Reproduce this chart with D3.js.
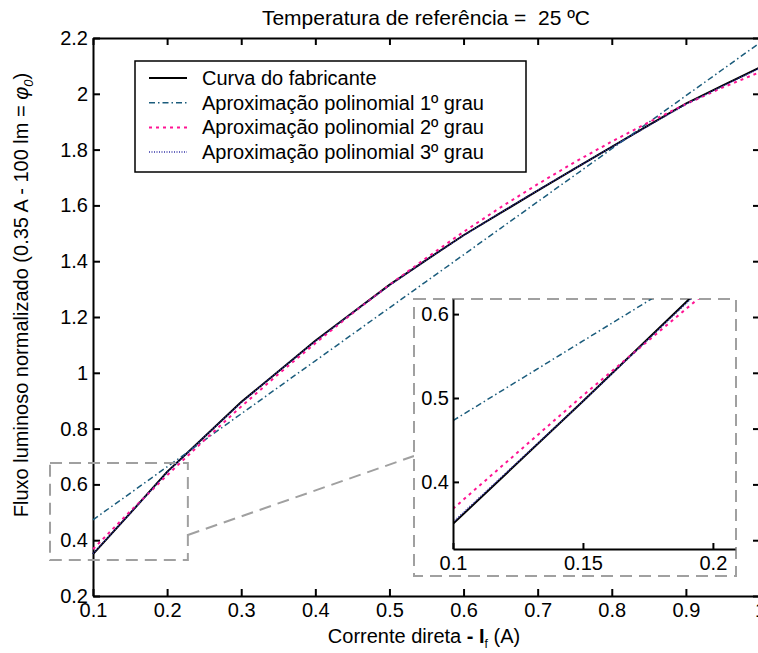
<!DOCTYPE html>
<html>
  <head>
    <meta charset="utf-8">
    <title>Fluxo luminoso normalizado</title>
    <style>
      body { margin: 0; background: #fff; }
      svg { display: block; font-family: "Liberation Sans", Arial, Helvetica, sans-serif; }
      .axis text { font-size: 20px; fill: #000; }
      .axis path, .axis line { stroke: #000; stroke-width: 2px; }
    </style>
    <script src="https://cdn.jsdelivr.net/npm/d3@7"></script>
  </head>
  <body>
    <div id="chart"></div>
    <script>
      // corrente direta (A)
      var current = [0.1, 0.15, 0.2, 0.25, 0.3, 0.35, 0.4, 0.45, 0.5, 0.55, 0.6, 0.65, 0.7, 0.75, 0.8, 0.85, 0.9, 0.95, 1.0];
      // curva do fabricante
      var fabricante = [0.35, 0.496, 0.645, 0.77, 0.895, 1.005, 1.115, 1.215, 1.315, 1.405, 1.493, 1.573, 1.653, 1.732, 1.81, 1.888, 1.965, 2.03, 2.095];
      // aproximacoes polinomiais
      var grau1 = [0.473, 0.568, 0.663, 0.758, 0.853, 0.948, 1.043, 1.138, 1.233, 1.328, 1.423, 1.518, 1.613, 1.708, 1.803, 1.898, 1.993, 2.088, 2.183];
      var grau2 = [0.368, 0.503, 0.633, 0.758, 0.879, 0.995, 1.106, 1.213, 1.315, 1.412, 1.505, 1.593, 1.676, 1.755, 1.829, 1.898, 1.963, 2.023, 2.078];
      var grau3 = [0.352, 0.496, 0.643, 0.77, 0.893, 1.005, 1.113, 1.215, 1.313, 1.405, 1.492, 1.574, 1.654, 1.732, 1.809, 1.886, 1.962, 2.028, 2.092];

      var xTicks = [0.1, 0.2, 0.3, 0.4, 0.5, 0.6, 0.7, 0.8, 0.9, 1.0];
      var yTicks = [0.2, 0.4, 0.6, 0.8, 1.0, 1.2, 1.4, 1.6, 1.8, 2.0, 2.2];
      var zoomXTicks = [0.1, 0.15, 0.2];
      var zoomYTicks = [0.4, 0.5, 0.6];
      // area marcada no grafico principal (x0, x1, y0, y1)
      var zoomArea = [0.042, 0.228, 0.329, 0.677];

      var series = [
        { name: 'Curva do fabricante', values: fabricante, color: '#000', width: 2, dash: null },
        { name: 'Aproximação polinomial 1º grau', values: grau1, color: '#1b5c7c', width: 1.5, dash: '6,3,1.5,3' },
        { name: 'Aproximação polinomial 2º grau', values: grau2, color: '#ff1493', width: 2, dash: '3,4' },
        { name: 'Aproximação polinomial 3º grau', values: grau3, color: '#3535a8', width: 1.5, dash: '1,1.5' }
      ];

      var fmt = function(d) { return String(+d.toFixed(2)); };

      var svg = d3.select('#chart').append('svg').attr('width', 758).attr('height', 653);

      var x = d3.scaleLinear().domain([0.1, 1.0]).range([93, 760]);
      var y = d3.scaleLinear().domain([0.2, 2.2]).range([596, 38]);

      svg.append('g').attr('class', 'axis').attr('transform', 'translate(0,596)')
        .call(d3.axisBottom(x).tickValues(xTicks).tickFormat(fmt).tickSizeInner(-7).tickSizeOuter(0).tickPadding(7));
      svg.append('g').attr('class', 'axis').attr('transform', 'translate(0,38)')
        .call(d3.axisTop(x).tickValues(xTicks).tickFormat('').tickSizeInner(-7).tickSizeOuter(0));
      svg.append('g').attr('class', 'axis').attr('transform', 'translate(93,0)')
        .call(d3.axisLeft(y).tickValues(yTicks).tickFormat(fmt).tickSizeInner(-7).tickSizeOuter(0).tickPadding(5));
      svg.append('g').attr('class', 'axis').attr('transform', 'translate(760,0)')
        .call(d3.axisRight(y).tickValues(yTicks).tickFormat('').tickSizeInner(-7).tickSizeOuter(0));

      var line = d3.line().x(function(d, i) { return x(current[i]); }).y(function(d) { return y(d); });

      series.forEach(function(s) {
        svg.append('path').attr('d', line(s.values)).attr('fill', 'none')
          .attr('stroke', s.color).attr('stroke-width', s.width).attr('stroke-dasharray', s.dash);
      });

      // titulo e rotulos
      svg.append('text').attr('x', 426).attr('y', 25).attr('text-anchor', 'middle')
        .style('font-size', '21px').text('Temperatura de referência =  25 ºC').attr('xml:space', 'preserve');

      var xl = svg.append('text').attr('x', 424).attr('y', 643).attr('text-anchor', 'middle').style('font-size', '20px');
      xl.append('tspan').text('Corrente direta ');
      xl.append('tspan').style('font-weight', 'bold').text('- I');
      xl.append('tspan').attr('dy', 5).style('font-size', '12px').text('f');
      xl.append('tspan').attr('dy', -5).text(' (A)');

      var yl = svg.append('text').attr('transform', 'translate(28,295) rotate(-90)').attr('text-anchor', 'middle').style('font-size', '20px');
      yl.append('tspan').text('Fluxo luminoso normalizado (0.35 A - 100 lm = ');
      yl.append('tspan').style('font-style', 'italic').text('φ');
      yl.append('tspan').attr('dy', 5).style('font-style', 'italic').style('font-size', '13px').text('0');
      yl.append('tspan').attr('dy', -5).text(')');

      // legenda
      var leg = svg.append('g');
      leg.append('rect').attr('x', 135).attr('y', 61).attr('width', 391).attr('height', 111)
        .attr('fill', '#fff').attr('stroke', '#000').attr('stroke-width', 1.5);
      series.forEach(function(s, i) {
        var yy = 78 + i * 24.7;
        leg.append('line').attr('x1', 149).attr('x2', 187).attr('y1', yy).attr('y2', yy)
          .attr('stroke', s.color).attr('stroke-width', s.width).attr('stroke-dasharray', s.dash);
        leg.append('text').attr('x', 202).attr('y', yy + 7).style('font-size', '20px').text(s.name);
      });

      // zoom: area marcada e ligacao
      var grey = '#a0a0a0';
      svg.append('rect').attr('x', x(zoomArea[0])).attr('y', y(zoomArea[3]))
        .attr('width', x(zoomArea[1]) - x(zoomArea[0])).attr('height', y(zoomArea[2]) - y(zoomArea[3]))
        .attr('fill', 'none').attr('stroke', grey).attr('stroke-width', 2).attr('stroke-dasharray', '12,7');
      svg.append('line').attr('x1', x(zoomArea[1])).attr('y1', 535).attr('x2', 414).attr('y2', 456)
        .attr('stroke', grey).attr('stroke-width', 2).attr('stroke-dasharray', '12,7');

      // grafico ampliado
      svg.append('rect').attr('x', 414).attr('y', 299).attr('width', 322).attr('height', 277)
        .attr('fill', '#fff').attr('stroke', grey).attr('stroke-width', 2).attr('stroke-dasharray', '12,7');

      var zx = d3.scaleLinear().domain([0.1, 0.2085]).range([453, 735]);
      var zy = d3.scaleLinear().domain([0.32, 0.618]).range([549, 299]);

      svg.append('clipPath').attr('id', 'zclip').append('rect')
        .attr('x', 453).attr('y', 299).attr('width', 282).attr('height', 250);

      var zline = d3.line().x(function(d, i) { return zx(current[i]); }).y(function(d) { return zy(d); });
      var zg = svg.append('g').attr('clip-path', 'url(#zclip)');
      series.forEach(function(s) {
        zg.append('path').attr('d', zline(s.values)).attr('fill', 'none')
          .attr('stroke', s.color).attr('stroke-width', s.width).attr('stroke-dasharray', s.dash);
      });

      svg.append('g').attr('class', 'axis').attr('transform', 'translate(0,549)')
        .call(d3.axisBottom(zx).tickValues(zoomXTicks).tickFormat(fmt).tickSizeInner(-6).tickSizeOuter(0).tickPadding(7));
      svg.append('g').attr('class', 'axis').attr('transform', 'translate(453,0)')
        .call(d3.axisLeft(zy).tickValues(zoomYTicks).tickFormat(fmt).tickSizeInner(-6).tickSizeOuter(0).tickPadding(4));
    </script>
  </body>
</html>
